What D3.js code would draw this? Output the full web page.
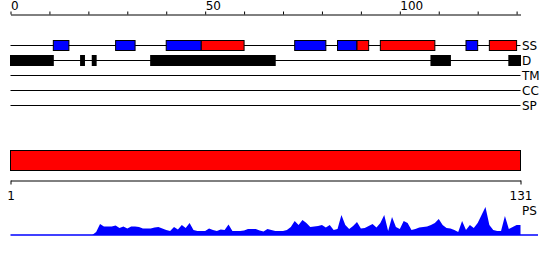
<!DOCTYPE html>
<html>
<head>
<meta charset="utf-8">
<script src="https://cdn.jsdelivr.net/npm/d3@7"></script>
<style>
  html, body { margin: 0; padding: 0; background: #fff; }
  svg { display: block; font-family: "DejaVu Sans", sans-serif; }
</style>
</head>
<body>
<svg id="chart" width="550" height="260"></svg>
<script>
// ---- data ----
const topTicks = [0, 10, 20, 30, 40, 50, 60, 70, 80, 90, 100, 110, 120, 130];
const topLabels = [0, 50, 100];
const bottomTicks = [1, 131];
const trackNames = ["SS", "D", "TM", "CC", "SP"];
// secondary structure: start, end, type (E = strand / blue, H = helix / red)
const ssStart = [11, 27, 40, 49, 73, 84, 89, 95, 117, 123];
const ssEnd   = [15, 32, 49, 60, 81, 89, 92, 109, 120, 130];
const ssType  = ["E", "E", "E", "H", "E", "E", "H", "H", "E", "H"];
// disorder segments
const dStart = [0, 18, 21, 36, 108, 128];
const dEnd   = [11, 19, 22, 68, 113, 131];
// full-length domain bar (bottom scale)
const domainStart = [1];
const domainEnd = [131];
// PS profile, one value per residue 0..131
const psValues = [
  0, 0, 0, 0, 0, 0, 0, 0, 0, 0,
  0, 0, 0, 0, 0, 0, 0, 0, 0, 0,
  0, 0, 3, 11, 8.5, 8.5, 8.5, 9.5, 7, 8.5,
  6.5, 8.5, 8.5, 8, 6.5, 6.5, 6.5, 7.5, 8, 6.5,
  5, 4, 8, 5.5, 10, 7, 12, 5, 4, 4,
  4, 6.5, 5, 4, 5.5, 5, 10.5, 4, 4, 4,
  4.5, 6, 6, 6, 4.5, 3.5, 6, 5, 4, 4,
  4, 5, 8, 14, 10, 15, 12, 8, 8.5, 9,
  10, 7.5, 10, 5, 6, 20, 10, 6, 9, 13,
  6.5, 7, 9, 11, 7.5, 12, 20, 4, 18, 8,
  6, 14, 12, 5, 6, 7.5, 8, 8.5, 10, 12,
  16, 10, 7, 6.5, 5, 3, 14, 5, 10, 7,
  12, 20, 28, 10, 5, 4, 4, 19, 6, 8,
  10, 10
];

// ---- layout ----
const svg = d3.select("#chart");
const xTop = d3.scaleLinear().domain([0, 131]).range([10.5, 520.5]);
const xBot = d3.scaleLinear().domain([1, 131]).range([10.5, 520.5]);
const trackY = d3.scalePoint().domain(trackNames).range([45, 105]);
const psY = d3.scaleLinear().domain([0, 30]).range([235, 205]);
const colorSS = { E: "#0000ff", H: "#ff0000" };

// top axis
const gTop = svg.append("g").attr("transform", "translate(0,14.5)")
  .call(d3.axisTop(xTop).tickValues(topTicks).tickSize(3).tickSizeOuter(0)
    .tickFormat(d => topLabels.includes(d) ? d : ""));
gTop.select(".domain").attr("stroke", "#000");
gTop.selectAll(".tick line").attr("stroke", "#000");
gTop.selectAll(".tick text").attr("text-anchor", "start").attr("y", -5).attr("dy", 0)
  .attr("font-size", 12).attr("font-family", "DejaVu Sans").attr("fill", "#000");

// track lines
svg.append("g").selectAll("line").data(trackNames).join("line")
  .attr("x1", xTop(0)).attr("x2", xTop(131))
  .attr("y1", d => trackY(d) + 0.5).attr("y2", d => trackY(d) + 0.5)
  .attr("stroke", "#000").attr("stroke-width", 1);

// track labels
svg.append("g").selectAll("text").data(trackNames).join("text")
  .attr("x", xTop(131) + 1.5).attr("y", d => trackY(d) + 0.5).attr("dy", "0.35em")
  .attr("font-size", 12).attr("fill", "#000").text(d => d);

// SS boxes
svg.append("g").selectAll("rect").data(ssStart.map((s, i) => ({ s, e: ssEnd[i], t: ssType[i] })))
  .join("rect")
  .attr("x", d => xTop(d.s)).attr("width", d => xTop(d.e) - xTop(d.s))
  .attr("y", trackY("SS") - 4.5).attr("height", 10)
  .attr("fill", d => colorSS[d.t]).attr("stroke", "#000").attr("stroke-width", 1);

// disorder boxes
svg.append("g").selectAll("rect").data(dStart.map((s, i) => ({ s, e: dEnd[i] })))
  .join("rect")
  .attr("x", d => xTop(d.s) - 0.5).attr("width", d => xTop(d.e) - xTop(d.s) + 1)
  .attr("y", trackY("D") - 5).attr("height", 11)
  .attr("fill", "#000");

// domain bar
svg.append("g").selectAll("rect").data(domainStart.map((s, i) => ({ s, e: domainEnd[i] })))
  .join("rect")
  .attr("x", d => xBot(d.s)).attr("width", d => xBot(d.e) - xBot(d.s))
  .attr("y", 150.5).attr("height", 20)
  .attr("fill", "#ff0000").attr("stroke", "#000").attr("stroke-width", 1);

// bottom axis
const gBot = svg.append("g").attr("transform", "translate(0,180.5)")
  .call(d3.axisBottom(xBot).tickValues(bottomTicks).tickSize(4).tickSizeOuter(0).tickFormat(d3.format("d")));
gBot.select(".domain").attr("stroke", "#000");
gBot.selectAll(".tick line").attr("stroke", "#000");
gBot.selectAll(".tick text").attr("y", 19.5).attr("dy", 0)
  .attr("font-size", 12).attr("font-family", "DejaVu Sans").attr("fill", "#000");

// PS profile
svg.append("line")
  .attr("x1", xTop(0)).attr("x2", 538).attr("y1", psY(0)).attr("y2", psY(0))
  .attr("stroke", "#0000ff").attr("stroke-width", 1.5);
svg.append("path").datum(psValues)
  .attr("d", d3.area().x((d, i) => xTop(i)).y0(psY(0)).y1(d => psY(d)))
  .attr("fill", "#0000ff");
svg.append("text").attr("x", xTop(131) + 1.5).attr("y", 214.5)
  .attr("font-size", 12).attr("fill", "#000").text("PS");
</script>
</body>
</html>
